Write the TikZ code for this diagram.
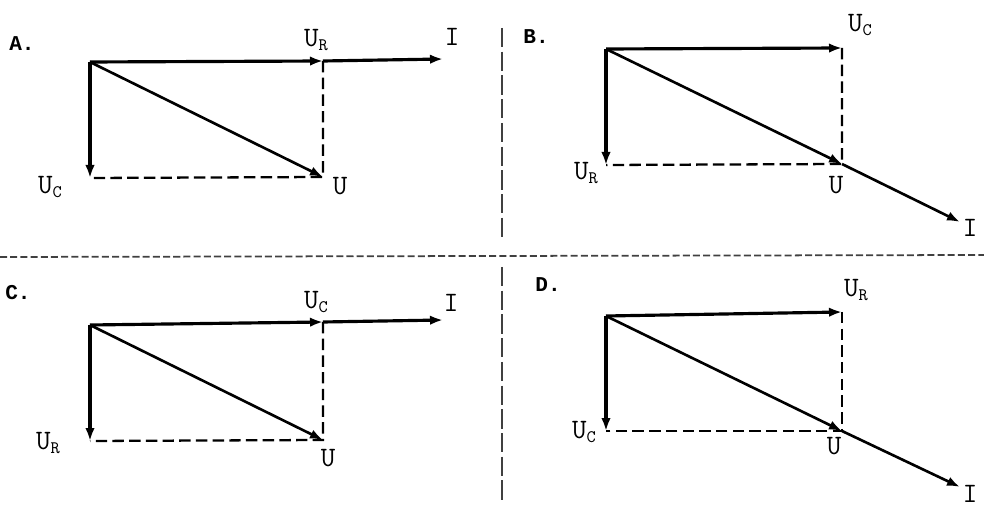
\documentclass[tikz,border=0pt]{standalone}
\usepackage{fontspec}
\usepackage{tikz}
\usetikzlibrary{arrows.meta}
\newfontfamily\tagfont{Liberation Mono}
\newcommand{\vsub}[2]{#1\raisebox{-0.4ex}{\fontsize{10}{10}\selectfont #2}}

\begin{document}
\begin{tikzpicture}[x=0.02cm,y=-0.02cm,>={Latex[length=2.6mm,width=1.9mm]},
  vec/.style={->,line width=1.8pt},
  res/.style={->,line width=1.5pt},
  aux/.style={line width=1.3pt,dash pattern=on 6.5pt off 3pt},
  hsep/.style={line width=1pt,black!75,dash pattern=on 4pt off 1.8pt},
  vsep/.style={line width=1pt,black!75,dash pattern=on 11pt off 2.5pt},
  lbl/.style={font=\ttfamily\fontsize{16}{16}\selectfont,inner sep=0pt},
  tag/.style={font=\tagfont\bfseries\fontsize{12}{12}\selectfont,inner sep=0pt}]
  \useasboundingbox (0,0) rectangle (984,509);
  % separators
  \coordinate (hl) at (0,257);
  \coordinate (hr) at (984,255);
  \coordinate (vt1) at (502,28);
  \coordinate (vb1) at (502,241);
  \coordinate (vt2) at (502,267);
  \coordinate (vb2) at (502,500);
  \draw[hsep] (hl) -- (hr);
  \draw[vsep] (vt1) -- (vb1);
  \draw[vsep] (vt2) -- (vb2);
  % A
  \coordinate (Ao) at (90,62);
  \coordinate (Ar) at (323,61);
  \coordinate (Ai) at (443,59);
  \coordinate (Ac) at (90,178);
  \coordinate (Au) at (323,177);
  \draw[aux] (Ar) -- (Au) -- (Ac);
  \draw[vec] (Ao) -- (Ar);
  \draw[vec] (Ar) -- (Ai);
  \draw[vec] (Ao) -- (Ac);
  \draw[res] (Ao) -- (Au);
  \node[tag] (Atag) at (22,44) {A.};
  \node[lbl] (AUR) at (316,40) {\vsub{U}{R}};
  \node[lbl] (AI) at (452,37) {I};
  \node[lbl] (AUC) at (50,187) {\vsub{U}{C}};
  \node[lbl] (AU) at (340,186) {U};
  % B
  \coordinate (Bo) at (606,49);
  \coordinate (Br) at (842,48);
  \coordinate (Bc) at (606,165);
  \coordinate (Bu) at (842,164);
  \coordinate (Bi) at (960,222);
  \draw[aux] (Br) -- (Bu) -- (Bc);
  \draw[vec] (Bo) -- (Br);
  \draw[vec] (Bo) -- (Bc);
  \draw[res] (Bo) -- (Bu);
  \draw[res] (Bu) -- (Bi);
  \node[tag] (Btag) at (536,37) {B.};
  \node[lbl] (BUC) at (860,25) {\vsub{U}{C}};
  \node[lbl] (BUR) at (586,173) {\vsub{U}{R}};
  \node[lbl] (BU) at (836,185) {U};
  \node[lbl] (BI) at (970,228) {I};
  % C
  \coordinate (Co) at (90,325);
  \coordinate (Cr) at (323,322);
  \coordinate (Ci) at (443,320);
  \coordinate (Cc) at (90,441);
  \coordinate (Cu) at (323,440);
  \draw[aux] (Cr) -- (Cu) -- (Cc);
  \draw[vec] (Co) -- (Cr);
  \draw[vec] (Cr) -- (Ci);
  \draw[vec] (Co) -- (Cc);
  \draw[res] (Co) -- (Cu);
  \node[tag] (Ctag) at (18,293) {C.};
  \node[lbl] (CUC) at (316,302) {\vsub{U}{C}};
  \node[lbl] (CI) at (451,303) {I};
  \node[lbl] (CUR) at (48,443) {\vsub{U}{R}};
  \node[lbl] (CU) at (328,458) {U};
  % D
  \coordinate (Do) at (606,316);
  \coordinate (Dr) at (842,312);
  \coordinate (Dc) at (606,431);
  \coordinate (Du) at (842,431);
  \coordinate (Di) at (960,487);
  \draw[aux] (Dr) -- (Du) -- (Dc);
  \draw[vec] (Do) -- (Dr);
  \draw[vec] (Do) -- (Dc);
  \draw[res] (Do) -- (Du);
  \draw[res] (Du) -- (Di);
  \node[tag] (Dtag) at (548,285) {D.};
  \node[lbl] (DUR) at (856,290) {\vsub{U}{R}};
  \node[lbl] (DUC) at (584,432) {\vsub{U}{C}};
  \node[lbl] (DU) at (834,446) {U};
  \node[lbl] (DI) at (970,494) {I};
\end{tikzpicture}
\end{document}
